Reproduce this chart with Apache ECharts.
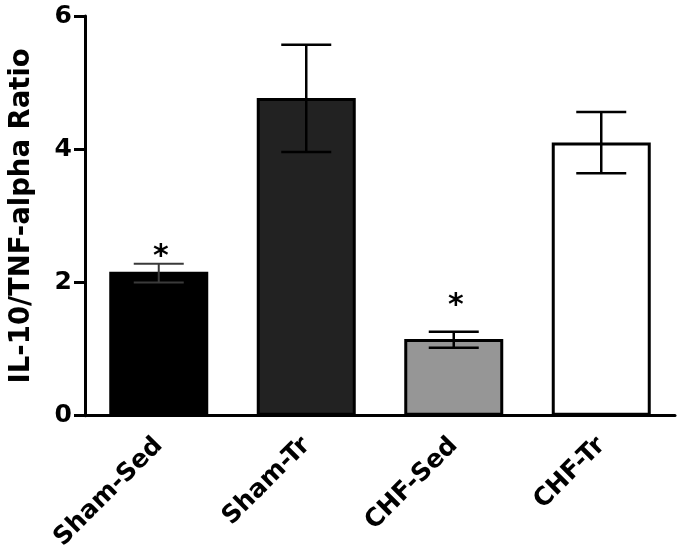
<!DOCTYPE html>
<html>
<head>
<meta charset="utf-8">
<script src="https://cdn.jsdelivr.net/npm/echarts@6/dist/echarts.min.js"></script>
<style>html,body{margin:0;padding:0;background:#fff;}#c{width:684px;height:553px;}</style>
</head>
<body>
<div id="c"></div>
<script>
var categories = ['Sham-Sed', 'Sham-Tr', 'CHF-Sed', 'CHF-Tr'];
var means = [2.16, 4.77, 1.15, 4.10];
var errLow = [2.00, 3.96, 1.02, 3.64];
var errHigh = [2.28, 5.57, 1.26, 4.56];
var starY = [2.47, null, 1.74, null];
var yTicks = [0, 2, 4, 6];

var barColors = ['#000000', '#222222', '#969696', '#ffffff'];
var errColors = ['#3a3a3a', '#000000', '#000000', '#000000'];
var errWidths = [2, 2.5, 2.5, 2.5];

var FONT = 'DejaVu Sans';
var chart = echarts.init(document.getElementById('c'), null, {renderer: 'canvas'});

var errData = categories.map(function (c, i) { return [i, errLow[i], errHigh[i]]; });
var starData = [];
starY.forEach(function (v, i) { if (v !== null) starData.push([i, v]); });

chart.setOption({
  animation: false,
  backgroundColor: '#ffffff',
  grid: {left: 79, right: 9, top: 16, bottom: 137, containLabel: false},
  xAxis: {
    type: 'category',
    data: categories,
    boundaryGap: true,
    axisLine: {lineStyle: {color: '#000', width: 3}},
    axisTick: {show: false},
    axisLabel: {
      rotate: 45, interval: 0, margin: 26,
      color: '#000', fontFamily: FONT, fontWeight: 'bold', fontSize: 25
    }
  },
  yAxis: {
    type: 'value',
    min: 0, max: 6, interval: 2,
    name: 'IL-10/TNF-alpha Ratio',
    nameLocation: 'middle',
    nameGap: 49,
    nameTextStyle: {color: '#000', fontFamily: FONT, fontWeight: 'bold', fontSize: 27.5},
    axisLine: {show: true, lineStyle: {color: '#000', width: 3}},
    axisTick: {show: true, length: 11, lineStyle: {color: '#000', width: 3}},
    splitLine: {show: false},
    axisLabel: {
      margin: 13, color: '#000', fontFamily: FONT, fontWeight: 'bold', fontSize: 25,
      formatter: function (v) { return yTicks.indexOf(v) >= 0 ? String(v) : ''; }
    }
  },
  series: [
    {
      type: 'bar',
      barWidth: 99,
      data: means.map(function (v, i) {
        return {value: v, itemStyle: {color: barColors[i], borderColor: '#000', borderWidth: 3}};
      }),
      z: 2
    },
    {
      type: 'custom',
      z: 5,
      data: errData,
      renderItem: function (params, api) {
        var i = api.value(0);
        var lo = api.coord([i, api.value(1)]);
        var hi = api.coord([i, api.value(2)]);
        var hw = 25;
        var st = {stroke: errColors[i], lineWidth: errWidths[i]};
        return {
          type: 'group',
          children: [
            {type: 'line', shape: {x1: lo[0], y1: lo[1], x2: hi[0], y2: hi[1]}, style: st},
            {type: 'line', shape: {x1: hi[0] - hw, y1: hi[1], x2: hi[0] + hw, y2: hi[1]}, style: st},
            {type: 'line', shape: {x1: lo[0] - hw, y1: lo[1], x2: lo[0] + hw, y2: lo[1]}, style: st}
          ]
        };
      }
    },
    {
      type: 'custom',
      z: 6,
      data: starData,
      renderItem: function (params, api) {
        var p = api.coord([api.value(0), api.value(1)]);
        return {
          type: 'text',
          x: p[0] + 2, y: p[1] + 6,
          style: {text: '*', fill: '#000', font: 'bold 30px "DejaVu Sans"', align: 'center', verticalAlign: 'middle'}
        };
      }
    }
  ]
});
</script>
</body>
</html>
